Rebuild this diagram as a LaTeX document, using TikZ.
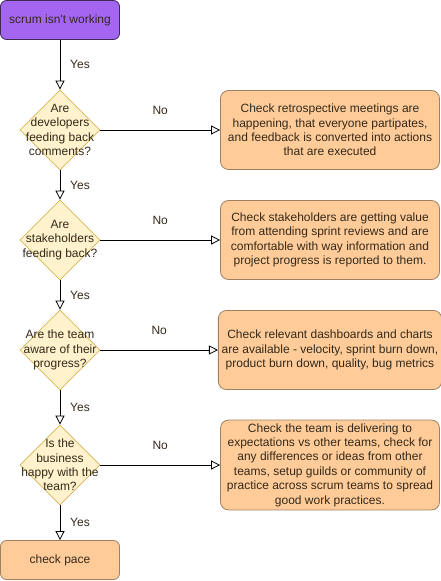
\documentclass[tikz,border=0pt]{standalone}
\usepackage{fontspec}
\setmainfont{Liberation Sans}
\usetikzlibrary{shapes.geometric,arrows.meta}
\definecolor{purplefill}{HTML}{A466F0}
\definecolor{purpledraw}{HTML}{3D2B58}
\definecolor{orangefill}{HTML}{FFCC99}
\definecolor{orangedraw}{HTML}{9E8060}
\definecolor{yelfill}{HTML}{FFF2CC}
\definecolor{yeldraw}{HTML}{D6B656}
\definecolor{txt}{HTML}{33291A}
\tikzset{
  every node/.style={font=\fontsize{12}{14.4}\selectfont, text=txt},
  startbox/.style={draw=purpledraw, fill=purplefill, rounded corners=6, minimum width=119, minimum height=39, line width=0.8pt},
  actbox/.style={draw=orangedraw, fill=orangefill, rounded corners=8, minimum width=219, minimum height=79, line width=0.8pt, align=center},
  endbox/.style={draw=orangedraw, fill=orangefill, rounded corners=6, minimum width=119, minimum height=39, line width=0.8pt},
  decision/.style={draw=yeldraw, fill=yelfill, shape=diamond, minimum width=80, minimum height=80, inner sep=0pt, line width=0.8pt},
  dtext/.style={align=center, inner sep=0pt},
  flow/.style={draw=black, line width=0.8pt, -{Triangle[open, length=9pt, width=9pt]}},
  lbl/.style={inner sep=0pt}
}
\begin{document}
\begin{tikzpicture}[x=1pt, y=-1pt]
\useasboundingbox (0,0) rectangle (441,581);
\node[startbox] (start) at (60,20) {scrum isn\textquotesingle t working};
\node[decision] (d1) at (60,130) {};
\node[dtext] (t1) at (60,130) {Are\\developers\\feeding back\\comments?};
\node[decision] (d2) at (60,240) {};
\node[dtext] (t2) at (60,240) {Are\\stakeholders\\feeding back?};
\node[decision] (d3) at (60,350) {};
\node[dtext] (t3) at (60,350) {Are the team\\aware of their\\progress?};
\node[decision] (d4) at (60,465) {};
\node[dtext] (t4) at (60,465) {Is the\\business\\happy with the\\team?};
\node[endbox] (end) at (60,560) {check pace};

\node[actbox] (a1) at (330,130) {Check retrospective meetings are\\happening, that everyone partipates,\\and feedback is converted into actions\\that are executed};
\node[actbox] (a2) at (330,240) {Check stakeholders are getting value\\from attending sprint reviews and are\\comfortable with way information and\\project progress is reported to them.};
\node[actbox] (a3) at (330,350) {Check relevant dashboards and charts\\are available - velocity, sprint burn down,\\product burn down, quality, bug metrics};
\node[actbox] (a4) at (330,465) {Check the team is delivering to\\expectations vs other teams, check for\\any differences or ideas from other\\teams, setup guilds or community of\\practice across scrum teams to spread\\good work practices.};

\draw[flow] (start) -- node[lbl, xshift=20pt] {Yes} (d1.north);
\draw[flow] (d1.south) -- node[lbl, xshift=20pt] {Yes} (d2.north);
\draw[flow] (d2.south) -- node[lbl, xshift=20pt] {Yes} (d3.north);
\draw[flow] (d3.south) -- node[lbl, xshift=20pt] {Yes} (d4.north);
\draw[flow] (d4.south) -- node[lbl, xshift=20pt] {Yes} (end.north);

\draw[flow] (d1.east) -- node[lbl, yshift=20pt] {No} (a1.west);
\draw[flow] (d2.east) -- node[lbl, yshift=20pt] {No} (a2.west);
\draw[flow] (d3.east) -- node[lbl, yshift=20pt] {No} (a3.west);
\draw[flow] (d4.east) -- node[lbl, yshift=20pt] {No} (a4.west);
\end{tikzpicture}
\end{document}
